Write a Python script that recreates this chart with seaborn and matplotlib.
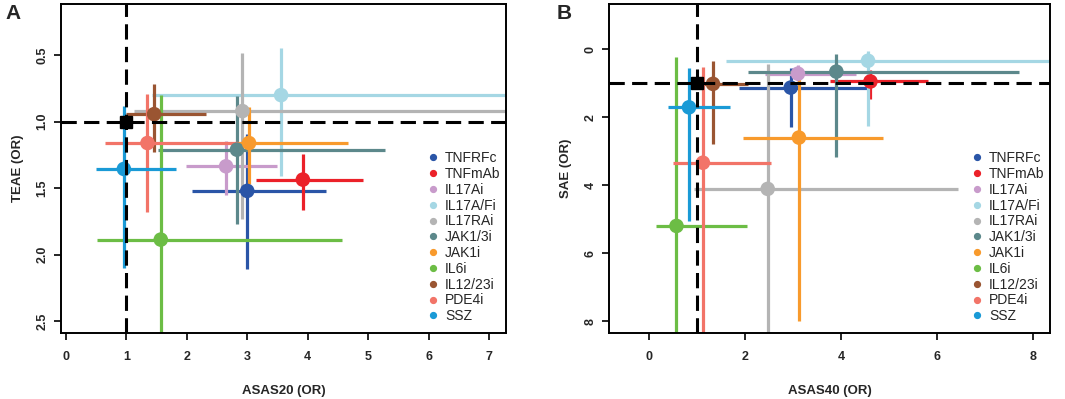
import pandas as pd
import matplotlib
matplotlib.use('Agg')
import matplotlib.pyplot as plt
from matplotlib.lines import Line2D
import seaborn as sns

drugs = ['TNFRFc', 'TNFmAb', 'IL17Ai', 'IL17A/Fi', 'IL17RAi', 'JAK1/3i',
         'JAK1i', 'IL6i', 'IL12/23i', 'PDE4i', 'SSZ']
colors = ['#2A55A7', '#EB2129', '#C89BCB', '#A5D7E4', '#B4B4B4', '#5C888B',
          '#F89A2C', '#6CBD45', '#9A5532', '#F27468', '#1A9AD6']

# panel A: ASAS20 (x) vs TEAE (y)
a_x = [3.00, 3.92, 2.65, 3.56, 2.92, 2.83, 3.03, 1.57, 1.46, 1.35, 0.96]
a_x_lo = [2.09, 3.15, 1.98, 1.43, 1.12, 1.52, 2.80, 0.52, 1.00, 0.65, 0.50]
a_x_hi = [4.31, 4.91, 3.50, 8.50, 8.00, 5.28, 4.66, 4.56, 2.31, 2.85, 1.83]
a_y = [1.52, 1.435, 1.335, 0.80, 0.92, 1.21, 1.16, 1.886, 0.943, 1.16, 1.355]
a_y_lo = [1.09, 1.24, 1.145, 0.447, 0.485, 0.81, 0.893, 0.80, 0.72, 0.79, 0.878]
a_y_hi = [2.11, 1.66, 1.548, 1.41, 1.73, 1.77, 1.47, 3.00, 1.23, 1.68, 2.10]

# panel B: ASAS40 (x) vs SAE (y)
b_x = [2.95, 4.61, 3.10, 4.56, 2.47, 3.90, 3.12, 0.57, 1.33, 1.12, 0.83]
b_x_lo = [1.87, 3.77, 2.42, 1.61, 0.94, 2.06, 1.96, 0.14, 1.00, 0.49, 0.40]
b_x_hi = [4.53, 5.81, 4.31, 9.50, 6.44, 7.71, 4.88, 2.03, 2.06, 2.53, 1.68]
b_y = [1.13, 0.95, 0.72, 0.34, 4.11, 0.66, 2.60, 5.20, 1.02, 3.34, 1.71]
b_y_lo = [0.54, 0.61, 0.46, 0.04, 0.44, 0.14, 0.81, 0.22, 0.34, 0.51, 0.54]
b_y_hi = [2.28, 1.46, 0.95, 2.25, 10.0, 3.16, 8.01, 11.0, 2.79, 10.0, 5.05]

df_a = pd.DataFrame({'drug': drugs, 'x': a_x, 'x_lo': a_x_lo, 'x_hi': a_x_hi,
                     'y': a_y, 'y_lo': a_y_lo, 'y_hi': a_y_hi})
df_b = pd.DataFrame({'drug': drugs, 'x': b_x, 'x_lo': b_x_lo, 'x_hi': b_x_hi,
                     'y': b_y, 'y_lo': b_y_lo, 'y_hi': b_y_hi})
pal = dict(zip(drugs, colors))

sns.set_style('ticks')
plt.rcParams['font.family'] = ['Liberation Sans', 'DejaVu Sans']

fig = plt.figure(figsize=(10.65, 3.99), dpi=100)
ax_a = fig.add_axes([0.0573, 0.1654, 0.4178, 0.8246])
ax_b = fig.add_axes([0.5721, 0.1654, 0.4138, 0.8246])


def panel(ax, df, xlim, ylim, xticks, yticks, yticklabels, xlabel, ylabel):
    for i, r in df.iterrows():
        c = pal[r['drug']]
        ax.hlines(r['y'], r['x_lo'], r['x_hi'], color=c, lw=2.3, zorder=2)
        ax.vlines(r['x'], r['y_lo'], r['y_hi'], color=c, lw=2.3, zorder=2)
    sns.scatterplot(data=df, x='x', y='y', hue='drug', palette=pal, s=110,
                    edgecolor='none', legend=False, ax=ax, zorder=3)
    ax.axhline(1, color='black', lw=2.2, dashes=(5, 2.4), zorder=4)
    ax.axvline(1, color='black', lw=2.2, dashes=(5, 2.4), zorder=4)
    ax.plot([1], [1], marker='s', ms=9, color='black', zorder=5)
    ax.set_xlim(*xlim)
    ax.set_ylim(*ylim)
    ax.set_xticks(xticks)
    ax.set_xticklabels([str(t) for t in xticks], fontweight='bold')
    ax.set_yticks(yticks)
    ax.set_yticklabels(yticklabels, rotation=90, va='center', fontweight='bold')
    ax.tick_params(axis='both', labelsize=9, length=5, width=1.2, color='black')
    ax.tick_params(axis='x', pad=8)
    ax.tick_params(axis='y', pad=4)
    for sp in ax.spines.values():
        sp.set_linewidth(1.4)
        sp.set_color('black')
    ax.set_xlabel(xlabel, fontsize=9.5, fontweight='bold', labelpad=16)
    ax.set_ylabel(ylabel, fontsize=9.5, fontweight='bold', labelpad=9)
    handles = [Line2D([], [], marker='o', ls='', ms=4.2, color=pal[d]) for d in drugs]
    ax.legend(handles, drugs, loc='lower right', frameon=False, fontsize=10,
              handlelength=0.8, handletextpad=0.45, labelspacing=0.13,
              borderaxespad=0.3, bbox_to_anchor=(1.01, 0.0))


panel(ax_a, df_a, (-0.08, 7.28), (2.588, 0.115), list(range(0, 8)),
      [0.5, 1.0, 1.5, 2.0, 2.5], ['0.5', '1.0', '1.5', '2.0', '2.5'],
      'ASAS20 (OR)', 'TEAE (OR)')
panel(ax_b, df_b, (-0.83, 8.35), (8.35, -1.33), [0, 2, 4, 6, 8],
      [0, 2, 4, 6, 8], ['0', '2', '4', '6', '8'],
      'ASAS40 (OR)', 'SAE (OR)')

fig.text(0.005, 0.965, 'A', fontsize=15, fontweight='bold', va='center')
fig.text(0.523, 0.965, 'B', fontsize=15, fontweight='bold', va='center')

fig.savefig('out.png', dpi=100)
